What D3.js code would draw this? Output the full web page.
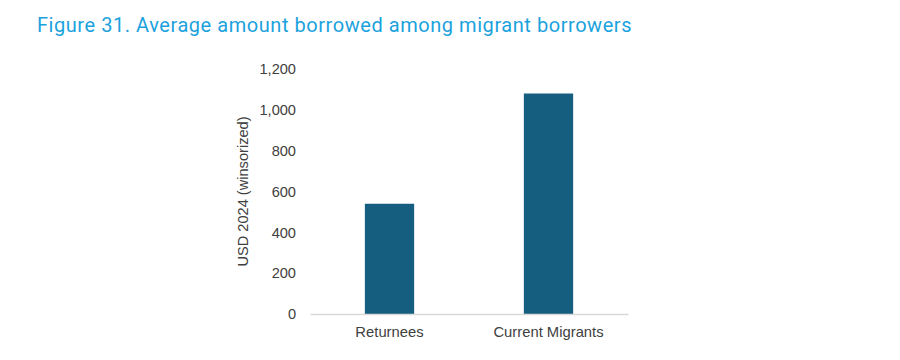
<!DOCTYPE html>
<html><head><meta charset="utf-8">
<script src="https://cdn.jsdelivr.net/npm/d3@7"></script>
<style>body{margin:0;background:#fff;}</style>
</head><body>
<svg id="chart" width="900" height="360"></svg>
<script>
const title = "Figure 31. Average amount borrowed among migrant borrowers";
const categories = ["Returnees", "Current Migrants"];
const values = [540, 1080];
const yTicks = [0, 200, 400, 600, 800, 1000, 1200];
const yLabel = "USD 2024 (winsorized)";

const svg = d3.select("#chart");
svg.append("text").attr("x", 37).attr("y", 32)
  .attr("font-family", "Roboto, sans-serif").attr("font-weight", 400).attr("font-size", 20)
  .attr("letter-spacing", 0.55)
  .attr("fill", "#1BA2DD").text(title);

const x = d3.scaleBand().domain(categories).range([310, 628]).paddingInner(0.69).paddingOuter(0.345);
const y = d3.scaleLinear().domain([0, 1200]).range([314, 69]);

svg.selectAll("rect.bar").data(values).enter().append("rect")
  .attr("class","bar")
  .attr("x", (d,i)=>x(categories[i])).attr("width", x.bandwidth())
  .attr("y", d=>y(d)).attr("height", d=>y(0)-y(d))
  .attr("fill", "#155E80");

const font = "Liberation Sans, Arial, sans-serif";
const gx = svg.append("g").attr("transform", `translate(0,${y(0)})`)
  .call(d3.axisBottom(x).tickSize(0).tickPadding(12));
gx.select(".domain").attr("stroke", "#d9d9d9").attr("stroke-width", 1.3);
gx.selectAll("text").attr("font-family", font).attr("font-size", 14.8).attr("fill", "#404040");

const gy = svg.append("g").attr("transform", `translate(310,0)`)
  .call(d3.axisLeft(y).tickValues(yTicks).tickSize(0).tickPadding(14).tickFormat(d3.format(",")));
gy.select(".domain").remove();
gy.selectAll("text").attr("font-family", font).attr("font-size", 14.6).attr("fill", "#404040");

svg.append("text").attr("transform", `translate(248,${(y(0)+y(1200))/2}) rotate(-90)`)
  .attr("text-anchor","middle")
  .attr("font-family", font).attr("font-size", 14.6).attr("fill", "#404040")
  .text(yLabel);
</script>
</body></html>
